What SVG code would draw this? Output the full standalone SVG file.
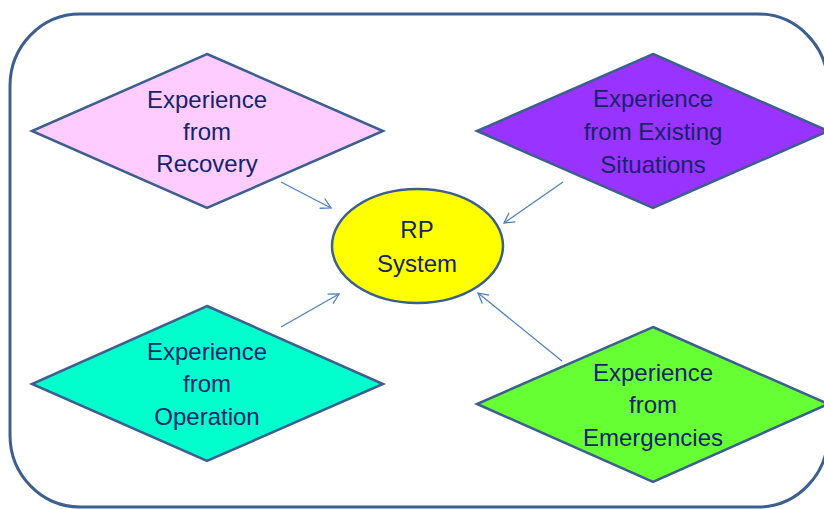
<svg xmlns="http://www.w3.org/2000/svg" width="824" height="509" viewBox="0 0 824 509">
<defs>
<style>
.frame{fill:none;stroke:#3d5f8f;stroke-width:3}
.node{stroke:#3d5f8f;stroke-width:2.5;stroke-linejoin:miter}
.lbl{font-family:"Liberation Sans",Arial,sans-serif;font-size:24px;fill:#15246a;text-anchor:middle}
.conn{stroke:#4f81bd;stroke-width:1.3;fill:none}
</style>
<marker id="arr" markerUnits="userSpaceOnUse" markerWidth="14" markerHeight="14" viewBox="0 0 14 14" refX="12" refY="7" orient="auto">
<path d="M2,1.5 L12,7 L2,12.5" fill="none" stroke="#4f81bd" stroke-width="1.3"/>
</marker>
</defs>
<rect width="824" height="509" fill="#ffffff"/>
<rect class="frame" x="10" y="14" width="818" height="493" rx="70" ry="72"/>

<g id="connectors">
<line class="conn" x1="281" y1="182" x2="331" y2="208" marker-end="url(#arr)"/>
<line class="conn" x1="563" y1="182" x2="504" y2="223" marker-end="url(#arr)"/>
<line class="conn" x1="281" y1="327" x2="339" y2="294" marker-end="url(#arr)"/>
<line class="conn" x1="562" y1="361" x2="478" y2="293" marker-end="url(#arr)"/>
</g>

<g id="recovery">
<polygon class="node" fill="#ffccff" points="207,54 383,131 207,208 32,131"/>
<text class="lbl" x="207" y="108">Experience</text>
<text class="lbl" x="207" y="140">from</text>
<text class="lbl" x="207" y="172">Recovery</text>
</g>

<g id="existing">
<polygon class="node" fill="#9933ff" points="653,54 828,131 653,208 477,131"/>
<text class="lbl" x="653" y="107">Experience</text>
<text class="lbl" x="653" y="140">from Existing</text>
<text class="lbl" x="653" y="173">Situations</text>
</g>

<g id="operation">
<polygon class="node" fill="#00ffcc" points="207,306 383,384 207,461 32,384"/>
<text class="lbl" x="207" y="360">Experience</text>
<text class="lbl" x="207" y="392">from</text>
<text class="lbl" x="207" y="425">Operation</text>
</g>

<g id="emergencies">
<polygon class="node" fill="#66ff33" points="653,327 828,404 653,482 477,404"/>
<text class="lbl" x="653" y="381">Experience</text>
<text class="lbl" x="653" y="413">from</text>
<text class="lbl" x="653" y="446">Emergencies</text>
</g>

<g id="rp-system">
<ellipse class="node" fill="#ffff00" cx="417.5" cy="246" rx="85.5" ry="57"/>
<text class="lbl" x="417" y="238">RP</text>
<text class="lbl" x="417" y="272">System</text>
</g>
</svg>
